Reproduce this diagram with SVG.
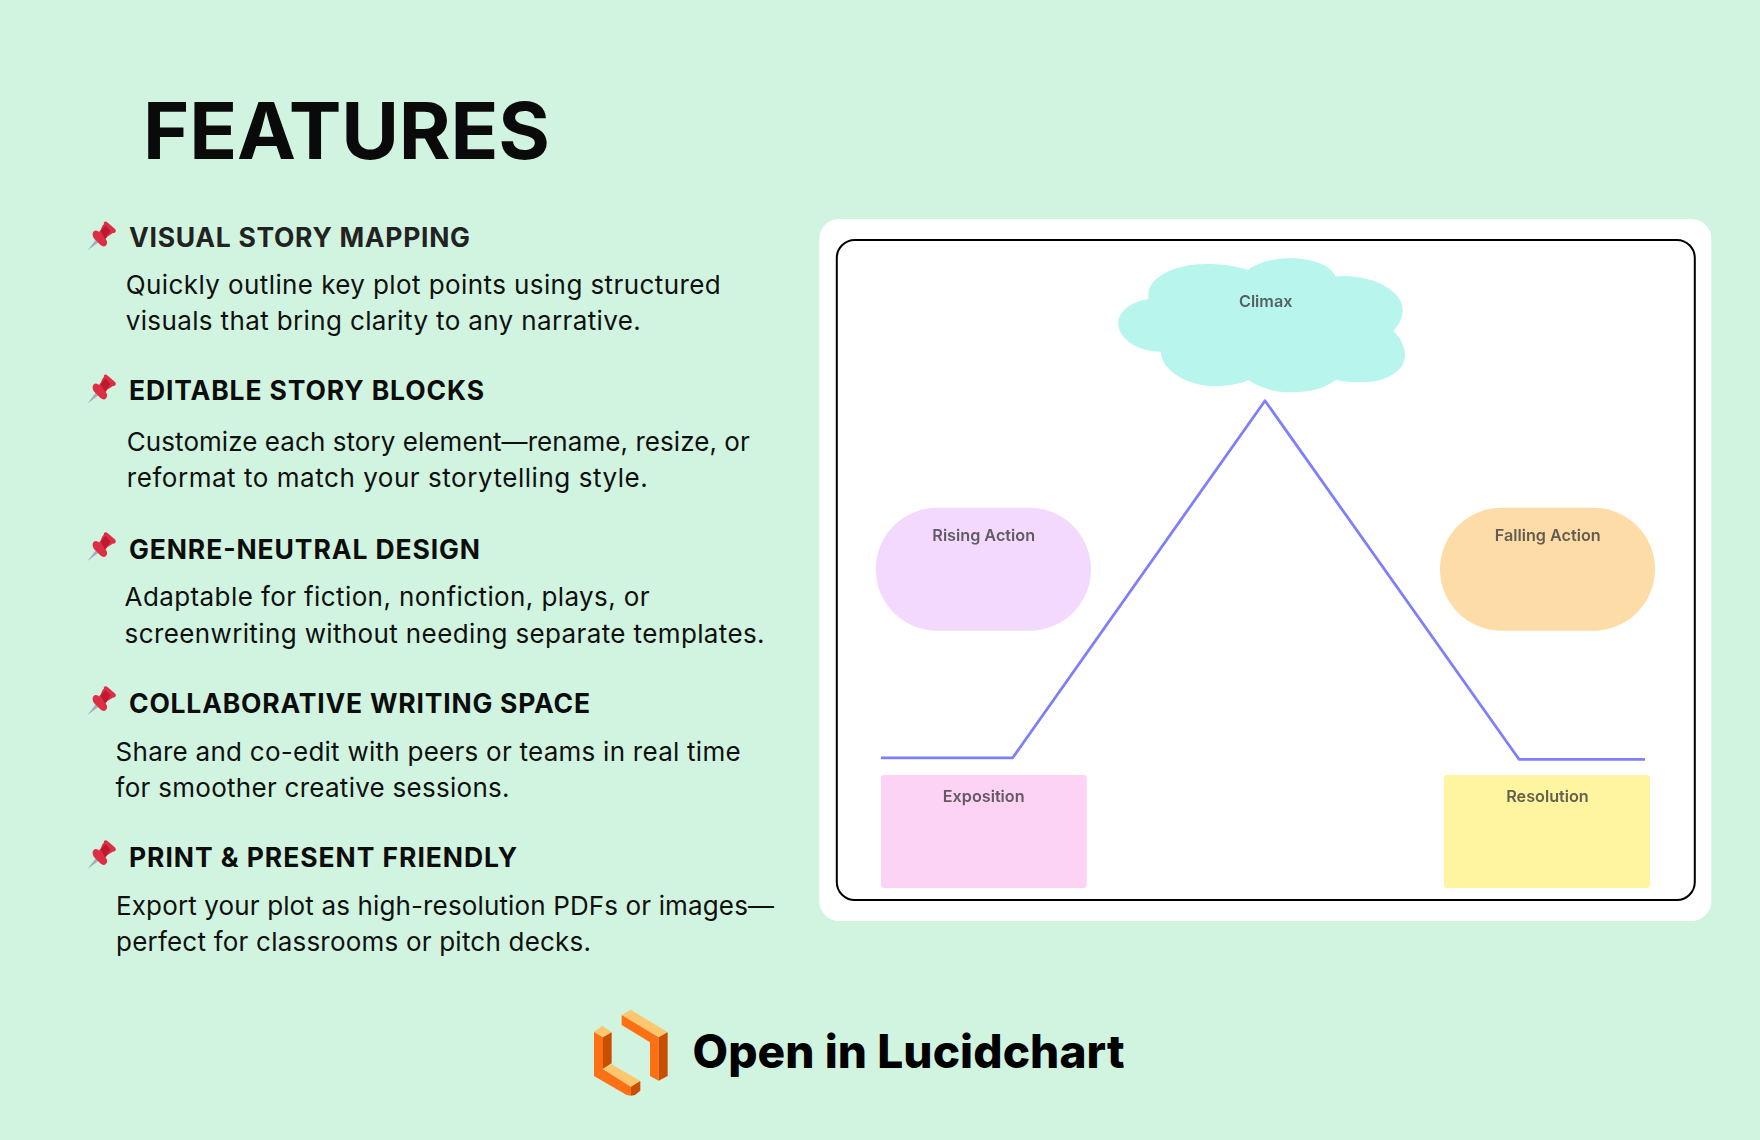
<svg xmlns="http://www.w3.org/2000/svg" width="1760" height="1140" viewBox="0 0 1760 1140">
<style>
.title{font:700 79px Inter,"Noto Sans",sans-serif;fill:#0a0a0a}
.h{font:700 26.500px Inter,"Noto Sans",sans-serif;fill:#0d0d0d}
.b{font:400 26px Inter,"Noto Sans",sans-serif;fill:#101010}
.lab{font:600 16.200px Inter,"Liberation Sans",sans-serif;fill:#3c3c3c;fill-opacity:.8;text-anchor:middle}
.cta{font:800 46px Inter,"Liberation Sans",sans-serif;fill:#000}
.lt{fill:#ffc670}.or{fill:#fd7014}.dk{fill:#c94f00}
</style>
<defs>
<filter id="soft" x="-5%" y="-20%" width="110%" height="140%"><feGaussianBlur stdDeviation="0.4"/></filter>
<g id="pin">
<polygon points="87.500,250.500 97.500,237.500 101,240.500" fill="#a4adc0"/>
<path d="M93.500,231.500 C96,229.500 98,231 99,232 L101,229.500 C102,226 103,225 104,224 C103,222 105.500,220.500 107.500,222.500 L115,229 C117,231 115,233.500 113,233 C111.500,234 110,235 107.500,236.500 L105.500,239 C107,240.500 108,243 106,245.500 C104,247 102.500,246.500 100.500,245 L94,238.500 C92.500,236.500 92,233.500 93.500,231.500Z" fill="#dd2e44"/>
<polygon points="100.500,231 105.500,225.500 110.500,231 105,239" fill="#be1931"/>
</g>
</defs>
<rect id="background" width="1760" height="1140" fill="#d1f4e0"/>
<text id="title" class="title" x="143" y="159" textLength="407" lengthAdjust="spacing">FEATURES</text>
<g id="feature-1">
<use href="#pin"/>
<text class="h" x="129" y="246.700" textLength="341" style="fill:#222">VISUAL STORY MAPPING</text>
<text class="b" x="125.700" y="294" textLength="595">Quickly outline key plot points using structured</text>
<text class="b" x="125.700" y="330" textLength="515">visuals that bring clarity to any narrative.</text>
</g>
<g id="feature-2">
<use href="#pin" y="153"/>
<text class="h" x="129" y="400" textLength="355">EDITABLE STORY BLOCKS</text>
<text class="b" x="126.800" y="451" textLength="623">Customize each story element—rename, resize, or</text>
<text class="b" x="126.800" y="487" textLength="521">reformat to match your storytelling style.</text>
</g>
<g id="feature-3">
<use href="#pin" y="310.600"/>
<text class="h" x="129" y="558.500" textLength="351">GENRE-NEUTRAL DESIGN</text>
<text class="b" x="124.600" y="605.500" textLength="525">Adaptable for fiction, nonfiction, plays, or</text>
<text class="b" x="124.600" y="642.500" textLength="640">screenwriting without needing separate templates.</text>
</g>
<g id="feature-4">
<use href="#pin" y="464.600"/>
<text class="h" x="129" y="712.500" textLength="461">COLLABORATIVE WRITING SPACE</text>
<text class="b" x="115.600" y="760.500" textLength="625">Share and co-edit with peers or teams in real time</text>
<text class="b" x="115.600" y="796.500" textLength="394">for smoother creative sessions.</text>
</g>
<g id="feature-5">
<use href="#pin" y="618.600"/>
<text class="h" x="129" y="866.500" textLength="388">PRINT &amp; PRESENT FRIENDLY</text>
<text class="b" x="116" y="914.500" textLength="658">Export your plot as high-resolution PDFs or images—</text>
<text class="b" x="116" y="950.500" textLength="475">perfect for classrooms or pitch decks.</text>
</g>
<g id="card">
<rect x="819.300" y="219" width="892" height="702" rx="20" fill="#fff"/>
<rect x="836.800" y="240" width="858" height="660" rx="18" fill="#fff" stroke="#000" stroke-width="2"/>
</g>
<g id="connectors">
<polyline points="881,757.800 1012.700,757.800 1265,400.700 1519,759.300 1645,759.300" fill="none" stroke="#7f7ffb" stroke-width="2.800" stroke-linejoin="round"/>
</g>
<g id="climax">
<path d="M1148.300,299.300 C1130,302 1118.300,312 1118.300,323 C1118.300,340 1140,352 1160.700,351.700 C1162,372 1190,386 1213.300,386 C1228,386 1240,384 1248.300,380 C1260,388 1275,392.300 1291.700,392.300 C1310,392.300 1325,388 1335.700,380 C1344,381.500 1352,382.300 1361.700,382.300 C1386,382.300 1405,371 1405,355 C1405,346 1400,337 1393.300,331 C1399,325 1402.700,318 1402.700,310 C1402.700,291 1375,276 1343,276 C1340,276 1338,276.300 1335.700,276.700 C1331,265 1312,258.300 1290,258.300 C1272,258.300 1257,263 1248.300,270 C1236,266 1222,264 1206.700,264 C1175,264 1148.300,277 1148.300,295Z" fill="#b8f5ec"/>
<text class="lab" x="1265.700" y="307" filter="url(#soft)">Climax</text>
</g>
<g id="rising-action">
<rect x="875.700" y="507.700" width="215.300" height="123" rx="61.500" fill="#f2d9fd"/>
<text class="lab" x="983.700" y="540.500" filter="url(#soft)">Rising Action</text>
</g>
<g id="falling-action">
<rect x="1440" y="507.700" width="215" height="123" rx="61.500" fill="#fedca7"/>
<text class="lab" x="1547.700" y="540.500" filter="url(#soft)">Falling Action</text>
</g>
<g id="exposition">
<rect x="881" y="775" width="205.700" height="113" rx="3" fill="#fdd3f5"/>
<text class="lab" x="983.700" y="801.500" filter="url(#soft)">Exposition</text>
</g>
<g id="resolution">
<rect x="1444" y="775" width="206" height="113" rx="3" fill="#fff4a0"/>
<text class="lab" x="1547.500" y="801.500" filter="url(#soft)">Resolution</text>
</g>
<g id="open-in-lucidchart">
<g transform="translate(585 1000) scale(.33333)">
<polygon class="or" points="27,95 54,112 54,207 138,260 138,287 125,285 27,228"/>
<polygon class="lt" points="27,95 52,77 80,97 54,112"/>
<polygon class="dk" points="54,112 80,97 80,190 54,207"/>
<polygon class="lt" points="54,207 80,193 166,243 138,260"/>
<polygon class="dk" points="138,260 166,243 166,272 150,285 138,287"/>
<polygon class="lt" points="110,45 137,29 248,97 221,112"/>
<polygon class="or" points="110,45 221,112 221,242 195,228 195,127 110,75"/>
<polygon class="dk" points="221,112 248,97 248,228 221,242"/>
</g>
<text class="cta" x="692.500" y="1068" textLength="432">Open in Lucidchart</text>
</g>
</svg>
